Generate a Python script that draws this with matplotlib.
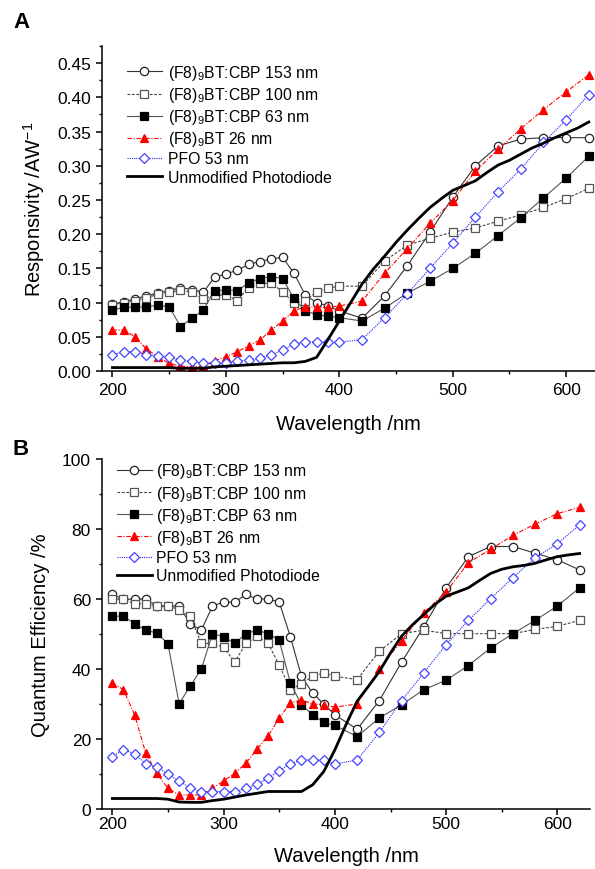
import numpy as np
import matplotlib
matplotlib.use("Agg")
import matplotlib.pyplot as plt
from matplotlib.ticker import MultipleLocator

plt.rcParams['font.family'] = ['Liberation Sans', 'DejaVu Sans']
plt.rcParams['mathtext.fontset'] = 'custom'
plt.rcParams['mathtext.rm'] = 'Liberation Sans'
plt.rcParams['mathtext.it'] = 'Liberation Sans:italic'

# wavelength grid of the measured points
wl = [200, 210, 220, 230, 240, 250, 260, 270, 280, 290, 300, 310, 320, 330, 340,
      350, 360, 370, 380, 390, 400, 420, 440, 460, 480, 500, 520, 540, 560, 580,
      600, 620]
# wavelength grid of the bare photodiode curve
wl_pd = list(range(200, 630, 10))

labels = [r'(F8)$_\mathregular{9}$BT:CBP 153 nm',
          r'(F8)$_\mathregular{9}$BT:CBP 100 nm',
          r'(F8)$_\mathregular{9}$BT:CBP 63 nm',
          r'(F8)$_\mathregular{9}$BT 26 nm',
          'PFO 53 nm',
          'Unmodified Photodiode']

# --- A: responsivity (A/W)
resp_153 = [0.098, 0.101, 0.105, 0.110, 0.114, 0.117, 0.122, 0.119, 0.115, 0.137,
            0.142, 0.147, 0.156, 0.160, 0.164, 0.166, 0.143, 0.111, 0.100, 0.095,
            0.088, 0.077, 0.110, 0.154, 0.203, 0.254, 0.300, 0.329, 0.339, 0.341,
            0.341, 0.341]
resp_100 = [0.097, 0.100, 0.103, 0.107, 0.112, 0.115, 0.118, 0.115, 0.105, 0.111,
            0.111, 0.103, 0.122, 0.128, 0.128, 0.116, 0.099, 0.102, 0.116, 0.121,
            0.124, 0.124, 0.161, 0.184, 0.194, 0.203, 0.209, 0.219, 0.228, 0.239,
            0.252, 0.267]
resp_63 = [0.089, 0.093, 0.093, 0.094, 0.096, 0.094, 0.065, 0.077, 0.089, 0.117,
           0.119, 0.117, 0.129, 0.135, 0.138, 0.135, 0.106, 0.088, 0.082, 0.080,
           0.078, 0.073, 0.092, 0.114, 0.131, 0.150, 0.172, 0.198, 0.224, 0.253,
           0.282, 0.314]
resp_26 = [0.060, 0.060, 0.050, 0.032, 0.021, 0.011, 0.007, 0.006, 0.007, 0.015,
           0.021, 0.028, 0.037, 0.045, 0.060, 0.073, 0.088, 0.094, 0.093, 0.093,
           0.095, 0.102, 0.143, 0.179, 0.216, 0.249, 0.292, 0.324, 0.354, 0.382,
           0.408, 0.433]
resp_pfo = [0.024, 0.028, 0.028, 0.024, 0.022, 0.020, 0.016, 0.014, 0.011, 0.011,
            0.012, 0.014, 0.016, 0.019, 0.023, 0.031, 0.039, 0.043, 0.042, 0.042,
            0.042, 0.046, 0.078, 0.113, 0.150, 0.187, 0.225, 0.262, 0.295, 0.334,
            0.367, 0.404]
resp_pd = [0.005, 0.005, 0.005, 0.005, 0.005, 0.005, 0.004, 0.004, 0.004, 0.006,
           0.007, 0.008, 0.009, 0.010, 0.011, 0.012, 0.012, 0.014, 0.020, 0.046,
           0.073, 0.100, 0.127, 0.149, 0.168, 0.188, 0.206, 0.223, 0.239, 0.252,
           0.264, 0.271, 0.278, 0.290, 0.301, 0.308, 0.317, 0.326, 0.333, 0.341,
           0.348, 0.355, 0.364]

# --- B: quantum efficiency (%)
qe_153 = [61.3, 59.9, 60.0, 60.0, 58.0, 58.0, 58.0, 52.9, 51.1, 58.0, 59.1, 59.1,
          61.3, 60.0, 60.0, 59.1, 49.2, 37.9, 33.1, 30.0, 26.9, 22.8, 31.0, 42.0,
          52.1, 63.2, 72.1, 75.0, 75.0, 73.1, 71.2, 68.3]
qe_100 = [60.0, 59.9, 58.7, 58.7, 58.0, 58.0, 57.0, 55.1, 47.3, 47.3, 46.2, 42.0,
          47.3, 49.4, 47.3, 41.1, 34.1, 35.8, 37.9, 38.9, 37.9, 37.0, 45.1, 50.1,
          51.1, 50.1, 50.1, 50.1, 50.1, 51.3, 52.2, 53.9]
qe_63 = [55.1, 55.1, 52.9, 51.1, 50.3, 47.2, 30.1, 35.1, 40.0, 50.1, 49.2, 47.3,
         50.1, 51.1, 50.1, 48.2, 36.0, 29.8, 26.9, 24.8, 23.9, 20.7, 26.0, 29.8,
         34.1, 36.8, 41.0, 46.0, 50.1, 53.9, 58.0, 63.2]
qe_26 = [36.0, 34.1, 26.9, 16.0, 10.2, 5.9, 4.0, 4.0, 4.0, 5.9, 8.0, 10.2, 13.1,
         17.1, 20.9, 26.0, 30.3, 31.2, 30.0, 29.8, 29.1, 30.0, 40.1, 48.1, 56.1,
         62.0, 70.4, 74.2, 78.2, 81.4, 84.4, 86.2]
qe_pfo = [15.0, 16.9, 15.8, 12.9, 12.1, 9.9, 8.0, 5.9, 5.0, 5.0, 5.0, 5.0, 5.9,
          7.1, 8.8, 10.9, 12.9, 14.0, 14.0, 14.0, 12.9, 14.0, 21.9, 31.0, 38.9,
          47.0, 53.9, 60.1, 66.1, 71.8, 75.8, 81.2]
qe_pd = [3.0, 3.0, 3.0, 3.0, 3.0, 2.8, 2.0, 1.9, 1.9, 2.4, 2.8, 3.4, 4.0, 4.5,
         5.0, 5.0, 5.0, 5.0, 6.9, 10.7, 16.9, 24.1, 30.8, 35.0, 39.3, 44.6, 49.4,
         52.7, 55.6, 58.5, 60.8, 62.0, 63.2, 65.3, 67.3, 68.5, 69.2, 69.6, 70.2,
         71.2, 72.1, 72.6, 73.0]

styles = [
    dict(color='#333333', ls='-', marker='o', mfc='white', mec='#222222'),
    dict(color='#444444', ls=(0, (2.5, 1.5)), marker='s', mfc='white', mec='#555555'),
    dict(color='#555555', ls='-', marker='s', mfc='black', mec='black'),
    dict(color='#ff0000', ls=(0, (4, 1.5, 1, 1.5)), marker='^', mfc='#ff0000', mec='#ff0000'),
    dict(color='#2222ff', ls=(0, (1, 1)), marker='D', mfc='white', mec='#4444ff'),
]


def draw(ax, series, pd_vals, tick_pad, xlabel_pad):
    for y, st, lab in zip(series, styles, labels):
        ms = 5 if st['marker'] == 'D' else 6
        ax.plot(wl, y, lw=0.8, ms=ms, mew=0.9, label=lab, **st)
    ax.plot(wl_pd, pd_vals, color='black', lw=2.0, label=labels[-1])
    for s in ['top', 'right']:
        ax.spines[s].set_visible(False)
    for s in ['left', 'bottom']:
        ax.spines[s].set_linewidth(1.1)
    ax.xaxis.set_major_locator(MultipleLocator(100))
    ax.xaxis.set_minor_locator(MultipleLocator(50))
    ax.tick_params(which='major', direction='out', length=4, width=1.1,
                   labelsize=12.5, pad=4)
    ax.tick_params(axis='x', which='major', pad=tick_pad)
    ax.tick_params(which='minor', direction='out', length=2.5, width=1.0)
    ax.set_xlabel('Wavelength /nm', fontsize=14.5, labelpad=xlabel_pad)


fig = plt.figure(figsize=(5.95, 8.7), dpi=100)

axA = fig.add_axes([102 / 595, (870 - 372) / 870, 493 / 595, 325 / 870])
draw(axA, [resp_153, resp_100, resp_63, resp_26, resp_pfo], resp_pd, 4, 12)
axA.set_xlim(190.8, 625.4)
axA.set_ylim(0, 0.475)
axA.yaxis.set_major_locator(MultipleLocator(0.05))
axA.yaxis.set_minor_locator(MultipleLocator(0.025))
axA.yaxis.set_major_formatter(plt.FormatStrFormatter('%.2f'))
axA.set_ylabel(r'Responsivity /AW$^{\mathregular{-1}}$', fontsize=14.5)
axA.yaxis.set_label_coords(-0.112, 0.5)
axA.legend(loc='upper left', bbox_to_anchor=(0.051, 0.948), frameon=False,
           fontsize=11.3, handlelength=2.2, handletextpad=0.38,
           labelspacing=0.2, borderpad=0, borderaxespad=0)

axB = fig.add_axes([102 / 595, (870 - 810) / 870, 488 / 595, 350 / 870])
draw(axB, [qe_153, qe_100, qe_63, qe_26, qe_pfo], qe_pd, 1, 11)
axB.set_xlim(190.7, 629.3)
axB.set_ylim(0, 100)
axB.yaxis.set_major_locator(MultipleLocator(20))
axB.yaxis.set_minor_locator(MultipleLocator(10))
axB.set_ylabel('Quantum Efficiency /%', fontsize=14.5)
axB.yaxis.set_label_coords(-0.107, 0.5)
axB.legend(loc='upper left', bbox_to_anchor=(0.031, 0.993), frameon=False,
           fontsize=11.3, handlelength=2.2, handletextpad=0.3,
           labelspacing=0.2, borderpad=0, borderaxespad=0)

fig.text(21 / 595, 1 - 23 / 870, 'A', ha='center', va='center',
         fontsize=16, fontweight='bold')
fig.text(21 / 595, 1 - 450 / 870, 'B', ha='center', va='center',
         fontsize=16, fontweight='bold')

fig.savefig('out.png', dpi=100)
